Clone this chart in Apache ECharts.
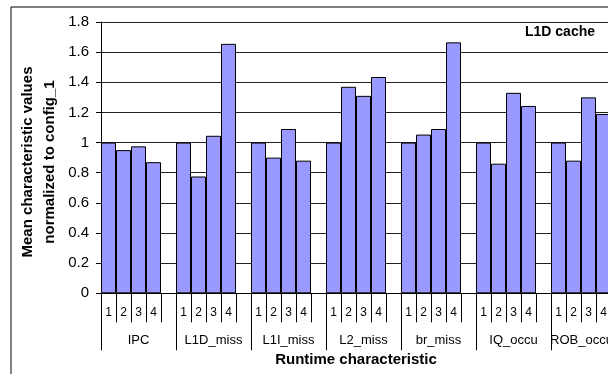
<!DOCTYPE html>
<html>
<head>
<meta charset="utf-8">
<script src="https://cdn.jsdelivr.net/npm/echarts@6/dist/echarts.min.js"></script>
<style>
html,body{margin:0;padding:0;background:#fff;}
#c{width:608px;height:374px;}
</style>
</head>
<body>
<div id="c"></div>
<script>
// Data
var groups = ['IPC', 'L1D_miss', 'L1I_miss', 'L2_miss', 'br_miss', 'IQ_occu', 'ROB_occu'];
var configs = ['1', '2', '3', '4'];
var IPC      = [1.0, 0.95, 0.975, 0.87];
var L1D_miss = [1.0, 0.775, 1.045, 1.655];
var L1I_miss = [1.0, 0.90, 1.09, 0.88];
var L2_miss  = [1.0, 1.37, 1.31, 1.435];
var br_miss  = [1.0, 1.053, 1.09, 1.665];
var IQ_occu  = [1.0, 0.86, 1.33, 1.243];
var ROB_occu = [1.0, 0.88, 1.30, 1.19];
var yTicks = [0, 0.2, 0.4, 0.6, 0.8, 1, 1.2, 1.4, 1.6, 1.8];

var seriesByGroup = [IPC, L1D_miss, L1I_miss, L2_miss, br_miss, IQ_occu, ROB_occu];
var cats = [], vals = [];
seriesByGroup.forEach(function (arr) {
  arr.forEach(function (v, i) { cats.push(configs[i]); vals.push(v); });
  cats.push(''); vals.push('-');
});

var groupData = groups.map(function (g, i) {
  if (i === groups.length - 1) return { value: g, textStyle: { padding: [0, 14, 0, 0] } };
  return g;
});

var font = 'Liberation Sans, Arial, sans-serif';
var chart = echarts.init(document.getElementById('c'), null, { renderer: 'canvas' });
chart.setOption({
  animation: false,
  grid: { left: 101, top: 22, width: 525, height: 271.3, containLabel: false, outerBoundsMode: 'none' },
  xAxis: [{
    type: 'category', data: cats, position: 'bottom',
    axisLine: { show: true, lineStyle: { color: '#000', width: 1 } },
    axisTick: { show: true, interval: 0, length: 29, alignWithLabel: false, lineStyle: { color: '#000' } },
    axisLabel: { interval: 0, margin: 13, fontSize: 12, color: '#000', fontFamily: font },
    splitLine: { show: false }
  }, {
    type: 'category', data: groupData, position: 'bottom',
    axisLine: { show: false },
    axisTick: { show: true, interval: 0, length: 57, alignWithLabel: false, lineStyle: { color: '#000' } },
    axisLabel: { interval: 0, margin: 41, fontSize: 13, color: '#000', fontFamily: font },
    splitLine: { show: false }
  }],
  yAxis: {
    type: 'value', min: yTicks[0], max: yTicks[yTicks.length - 1], interval: 0.2,
    axisLine: { show: true, lineStyle: { color: '#000' } },
    axisTick: { show: true, length: 5, lineStyle: { color: '#000' } },
    axisLabel: { margin: 12, fontSize: 15, color: '#000', fontFamily: font },
    splitLine: { lineStyle: { color: '#222', width: 1 } }
  },
  series: [{
    type: 'bar', xAxisIndex: 0, data: vals,
    barWidth: '100%', barCategoryGap: '0%',
    itemStyle: { color: '#9999FF', borderColor: '#000', borderWidth: 1 }
  }],
  graphic: [
    { type: 'rect', shape: { x: 11, y: 7, width: 800, height: 500 },
      style: { fill: 'none', stroke: '#000', lineWidth: 1 }, z: 100 },
    { type: 'text', x: 595, y: 32,
      style: { text: 'L1D cache', align: 'right', verticalAlign: 'middle',
        font: 'bold 14px ' + font, fill: '#000' }, z: 100 },
    { type: 'text', x: 356, y: 360,
      style: { text: 'Runtime characteristic', align: 'center', verticalAlign: 'middle',
        font: 'bold 15px ' + font, fill: '#000' }, z: 100 },
    { type: 'text', x: 28, y: 162, rotation: Math.PI / 2,
      style: { text: 'Mean characteristic values', align: 'center', verticalAlign: 'middle',
        font: 'bold 15px ' + font, fill: '#000' }, z: 100 },
    { type: 'text', x: 50, y: 162, rotation: Math.PI / 2,
      style: { text: 'normalized to config_1', align: 'center', verticalAlign: 'middle',
        font: 'bold 15px ' + font, fill: '#000' }, z: 100 }
  ]
});
</script>
</body>
</html>
